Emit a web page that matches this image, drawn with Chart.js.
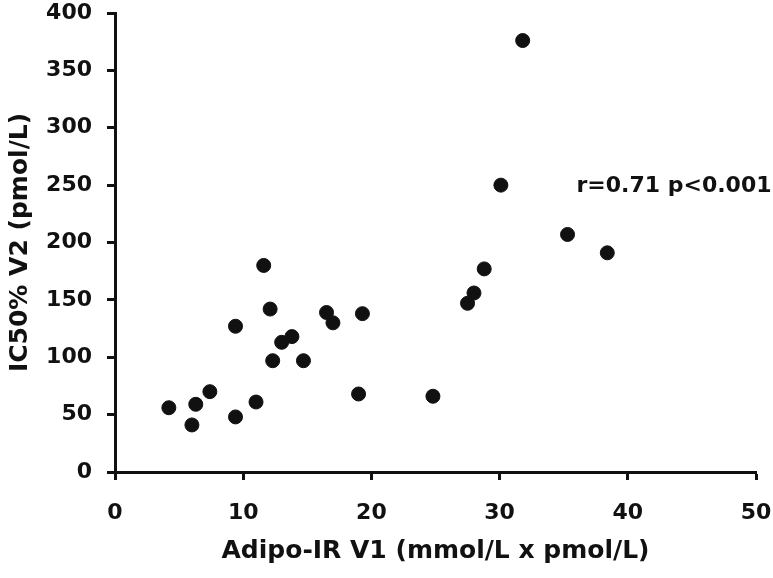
<!doctype html>
<html>
<head>
<meta charset="UTF-8">
<title>Adipo-IR vs IC50%</title>
<script src="https://cdn.jsdelivr.net/npm/chart.js@4.4.1/dist/chart.umd.min.js"></script>
<style>
  body { margin: 0; background: #fff; }
</style>
</head>
<body>
<canvas id="myChart" width="773" height="578"></canvas>
<script>
// values
var adipoIR = [4.2, 6.0, 6.3, 7.4, 9.4, 9.4, 11.0, 11.6, 12.1, 12.3, 13.0, 13.8, 14.7,
               16.5, 17.0, 19.0, 19.3, 24.8, 27.5, 28.0, 28.8, 30.1, 31.8, 35.3, 38.4];
var ic50 = [56, 41, 59, 70, 127, 48, 61, 180, 142, 97, 113, 118, 97,
            139, 130, 68, 138, 66, 147, 156, 177, 250, 376, 207, 191];
var xTitle = 'Adipo-IR V1 (mmol/L x pmol/L)';
var yTitle = 'IC50% V2 (pmol/L)';
var statText = 'r=0.71 p<0.001';
var statPos = [36, 249];

var points = [];
for (var i = 0; i < adipoIR.length; i++) {
    points.push({x: adipoIR[i], y: ic50[i]});
}

var ink = '#111';
var fontFam = '"DejaVu Sans", sans-serif';

// writes the r / p text next to the upper points
var statLabel = {
    id: 'statLabel',
    afterDatasetsDraw: function(chart) {
        var ctx = chart.ctx;
        var x = chart.scales.x.getPixelForValue(statPos[0]);
        var y = chart.scales.y.getPixelForValue(statPos[1]);
        ctx.save();
        ctx.font = 'bold 22px ' + fontFam;
        ctx.fillStyle = ink;
        ctx.textAlign = 'left';
        ctx.textBaseline = 'middle';
        ctx.fillText(statText, x, y);
        ctx.restore();
    }
};

var ctx = document.getElementById('myChart').getContext('2d');
var myChart = new Chart(ctx, {
    type: 'scatter',
    data: {
        datasets: [{
            data: points,
            backgroundColor: ink,
            borderColor: ink,
            pointRadius: 7,
            pointHoverRadius: 7
        }]
    },
    options: {
        responsive: false,
        animation: false,
        layout: { padding: 0 },
        plugins: {
            legend: { display: false },
            tooltip: { enabled: false }
        },
        scales: {
            x: {
                type: 'linear',
                min: 0,
                max: 50,
                afterFit: function(scale) {
                    scale.height = 106;
                    scale.paddingLeft = 0;
                    scale.paddingRight = 17;
                },
                ticks: {
                    stepSize: 10,
                    padding: 20,
                    color: ink,
                    font: { family: fontFam, size: 22, weight: 'bold' }
                },
                grid: {
                    drawOnChartArea: false,
                    drawTicks: true,
                    tickLength: 8,
                    tickWidth: 3,
                    tickColor: ink
                },
                border: { display: true, color: ink, width: 3 },
                title: {
                    display: true,
                    text: xTitle,
                    color: ink,
                    padding: { top: 10, bottom: 12 },
                    font: { family: fontFam, size: 25, weight: 'bold' }
                }
            },
            y: {
                type: 'linear',
                min: 0,
                max: 400,
                afterFit: function(scale) {
                    scale.width = 115;
                    scale.paddingTop = 13;
                    scale.paddingBottom = 0;
                },
                ticks: {
                    stepSize: 50,
                    padding: 15,
                    color: ink,
                    font: { family: fontFam, size: 22, weight: 'bold' }
                },
                grid: {
                    drawOnChartArea: false,
                    drawTicks: true,
                    tickLength: 8,
                    tickWidth: 3,
                    tickColor: ink
                },
                border: { display: true, color: ink, width: 3 },
                title: {
                    display: true,
                    text: yTitle,
                    color: ink,
                    padding: { top: 5, bottom: 0 },
                    font: { family: fontFam, size: 25, weight: 'bold' }
                }
            }
        }
    },
    plugins: [statLabel]
});
</script>
</body>
</html>
